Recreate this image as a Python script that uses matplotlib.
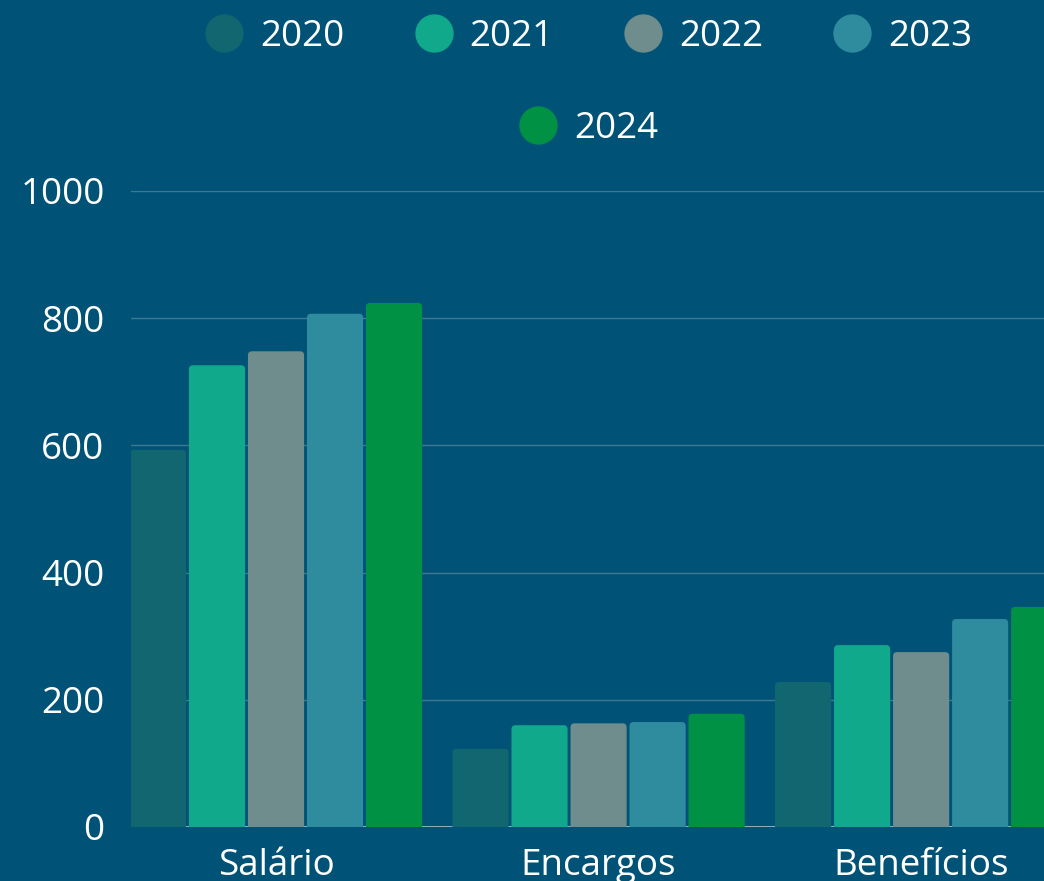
import numpy as np
import matplotlib.pyplot as plt
from matplotlib.lines import Line2D
from matplotlib.patches import FancyBboxPatch

plt.rcParams['font.family'] = ['Open Sans', 'DejaVu Sans']

# data
categories = ['Salário', 'Encargos', 'Benefícios']
years = ['2020', '2021', '2022', '2023', '2024']
values = {
    '2020': [593, 123, 228],
    '2021': [726, 160, 286],
    '2022': [748, 163, 275],
    '2023': [807, 165, 327],
    '2024': [824, 178, 346],
}
colors = ['#116670', '#10a98b', '#6e8d8c', '#2e8c9e', '#009145']
bg = '#005376'

fig = plt.figure(figsize=(10.44, 8.81), dpi=100, facecolor=bg)
ax = fig.add_axes([131 / 1044, 54 / 881, 913 / 1044, 636 / 881])
ax.set_facecolor(bg)

x = np.arange(len(categories))
step = 0.183
width = 0.174
xmin, xmax = -0.4496, 2.381
ymin, ymax = 0, 1000
# data units per pixel, to round the bar corners by ~4 px
ux = (xmax - xmin) / 913
uy = (ymax - ymin) / 636
r = 4 * ux

for i, yr in enumerate(years):
    bars = ax.bar(x + (i - 2) * step, values[yr], width=width, color=colors[i], zorder=3)
    for b in bars:
        bx, by = b.get_x(), b.get_y()
        bw, bh = b.get_width(), b.get_height()
        b.set_visible(False)
        # start a bit below zero so only the top corners look rounded
        off = 5 * uy
        p = FancyBboxPatch((bx, by - off), bw, bh + off,
                           boxstyle=f'round,pad=0,rounding_size={r}',
                           mutation_aspect=uy / ux, fc=colors[i], ec='none', zorder=3)
        ax.add_patch(p)

ax.set_xlim(xmin, xmax)
ax.set_ylim(ymin, ymax)
ax.set_yticks(range(0, 1001, 200))
ax.set_xticks(x)
ax.set_xticklabels(categories)
ax.grid(axis='y', color='#3f7893', lw=1, zorder=0)
ax.axhline(0, color='#a9bfcc', lw=1.2, zorder=2)
for s in ax.spines.values():
    s.set_visible(False)
ax.tick_params(axis='y', length=0, pad=19, labelsize=26.5, labelcolor='white')
ax.tick_params(axis='x', length=0, pad=15, labelsize=26.5, labelcolor='white')

# legend in two rows
handles = [Line2D([], [], ls='none', marker='o', markersize=26.6, color=c) for c in colors]
kw = dict(frameon=False, fontsize=26.5, labelcolor='white', handlelength=0.95,
          handletextpad=0.5, columnspacing=1.95, loc='center', borderaxespad=0)
leg1 = fig.legend(handles[:4], years[:4], ncol=4, bbox_to_anchor=(589.5 / 1044, 1 - 37 / 881), **kw)
leg2 = fig.legend(handles[4:], years[4:], ncol=1, bbox_to_anchor=(589.5 / 1044, 1 - 129 / 881), **kw)

fig.savefig('out.png', dpi=100, facecolor=bg)
